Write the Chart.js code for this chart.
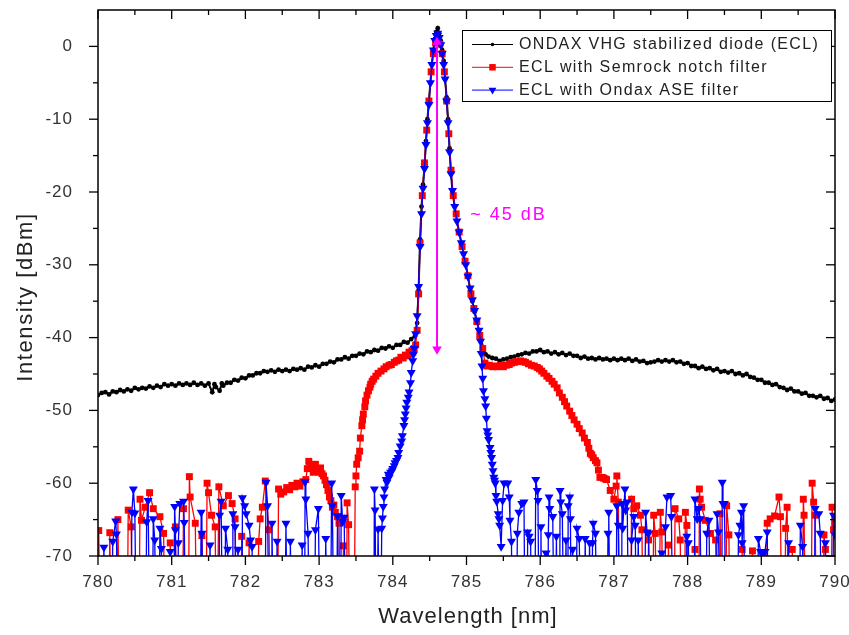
<!DOCTYPE html>
<html>
<head>
<meta charset="utf-8">
<script src="https://cdn.jsdelivr.net/npm/chart.js@4.4.1/dist/chart.umd.min.js"></script>
<style>
html,body{margin:0;padding:0;background:#fff;}
canvas{display:block;}
</style>
</head>
<body>
<canvas id="c" width="849" height="635"></canvas>
<script>
// ---------- data ----------
const xTicks = [780, 781, 782, 783, 784, 785, 786, 787, 788, 789, 790];
const yTicks = [-70, -60, -50, -40, -30, -20, -10, 0];
const xTitle = 'Wavelength [nm]';
const yTitle = 'Intensity [dBm]';
const seriesLabels = ['ONDAX VHG stabilized diode (ECL)', 'ECL with Semrock notch filter', 'ECL with Ondax ASE filter'];
// values of -90 dBm lie below the analyser floor (off the bottom of the plot)

const ecl = [
[780.00,-47.9],[780.05,-47.6],[780.10,-47.5],[780.15,-47.8],[780.20,-47.4],[780.25,-47.5],[780.30,-47.2],[780.35,-47.4],[780.40,-47.1],[780.45,-47.3],
[780.50,-46.9],[780.55,-47.1],[780.60,-46.9],[780.65,-47.0],[780.70,-46.7],[780.75,-46.9],[780.80,-46.6],[780.85,-46.8],[780.90,-46.4],[780.95,-46.6],
[781.00,-46.4],[781.05,-46.6],[781.10,-46.3],[781.15,-46.5],[781.20,-46.3],[781.25,-46.5],[781.30,-46.2],[781.35,-46.5],[781.40,-46.3],[781.45,-46.6],
[781.50,-46.3],[781.55,-47.5],[781.58,-46.4],[781.60,-46.8],[781.65,-47.3],[781.68,-46.3],[781.70,-46.6],[781.75,-46.2],[781.80,-46.2],[781.85,-45.8],
[781.90,-45.9],[781.95,-45.5],[782.00,-45.6],[782.05,-45.2],[782.10,-45.2],[782.15,-44.9],[782.20,-44.9],[782.25,-44.6],[782.30,-44.7],[782.35,-44.5],
[782.40,-44.7],[782.45,-44.4],[782.50,-44.6],[782.55,-44.4],[782.60,-44.6],[782.65,-44.3],[782.70,-44.4],[782.75,-44.2],[782.80,-44.4],[782.85,-44.0],
[782.90,-44.1],[782.95,-43.8],[783.00,-44.0],[783.05,-43.6],[783.10,-43.6],[783.15,-43.3],[783.20,-43.4],[783.25,-43.0],[783.30,-43.0],[783.35,-42.7],
[783.40,-42.9],[783.45,-42.5],[783.50,-42.5],[783.55,-42.2],[783.60,-42.3],[783.65,-41.9],[783.70,-42.0],[783.75,-41.7],[783.80,-41.8],[783.85,-41.4],
[783.90,-41.5],[783.95,-41.2],[784.00,-41.4],[784.05,-41.0],[784.10,-41.0],[784.15,-40.6],[784.20,-40.7],[784.25,-40.2],[784.30,-39.8],
[784.33,-38.0],[784.35,-33.5],[784.37,-26.5],[784.39,-22.0],[784.41,-19.0],[784.43,-16.5],[784.45,-13.0],[784.47,-10.0],[784.49,-7.5],
[784.51,-5.0],[784.53,-2.5],[784.55,-0.5],[784.57,1.0],[784.59,2.0],[784.61,2.5],[784.63,1.8],[784.65,0.8],[784.67,-0.5],[784.69,-2.0],
[784.71,-4.5],[784.73,-7.0],[784.75,-10.0],[784.77,-14.0],[784.79,-17.5],[784.81,-20.0],[784.84,-22.0],[784.87,-24.0],[784.90,-25.5],
[784.93,-27.0],[784.96,-28.5],[784.99,-30.0],[785.02,-31.5],[785.05,-33.5],[785.08,-35.0],[785.11,-36.5],[785.14,-37.8],[785.17,-39.0],
[785.20,-40.3],[785.23,-41.5],[785.26,-42.3],
[785.30,-42.6],[785.35,-42.8],[785.40,-42.9],[785.45,-43.2],[785.50,-43.0],[785.55,-42.9],[785.60,-42.7],[785.65,-42.6],[785.70,-42.4],[785.75,-42.3],
[785.80,-42.1],[785.85,-42.2],[785.90,-41.9],[785.95,-41.9],[786.00,-41.7],[786.05,-42.0],[786.10,-41.9],[786.15,-42.2],[786.20,-42.0],[786.25,-42.3],
[786.30,-42.1],[786.35,-42.4],[786.40,-42.2],[786.45,-42.5],[786.50,-42.5],[786.55,-42.8],[786.60,-42.6],[786.65,-42.9],[786.70,-42.8],[786.75,-43.0],
[786.80,-42.8],[786.85,-43.0],[786.90,-42.9],[786.95,-43.1],[787.00,-42.9],[787.05,-43.1],[787.10,-42.9],[787.15,-43.1],[787.20,-42.9],[787.25,-43.2],
[787.30,-43.0],[787.35,-43.3],[787.40,-43.2],[787.45,-43.5],[787.50,-43.4],[787.55,-43.3],[787.60,-43.1],[787.65,-43.3],[787.70,-43.1],[787.75,-43.3],
[787.80,-43.1],[787.85,-43.4],[787.90,-43.3],[787.95,-43.6],[788.00,-43.5],[788.05,-43.9],[788.10,-43.9],[788.15,-44.2],[788.20,-44.0],[788.25,-44.3],
[788.30,-44.2],[788.35,-44.5],[788.40,-44.3],[788.45,-44.7],[788.50,-44.6],[788.55,-44.8],[788.60,-44.6],[788.65,-45.0],[788.70,-44.9],[788.75,-45.2],
[788.80,-45.0],[788.85,-45.4],[788.90,-45.5],[788.95,-45.8],[789.00,-45.8],[789.05,-46.2],[789.10,-46.2],[789.15,-46.5],[789.20,-46.4],[789.25,-46.8],
[789.30,-46.9],[789.35,-47.2],[789.40,-47.0],[789.45,-47.4],[789.50,-47.4],[789.55,-47.7],[789.60,-47.6],[789.65,-48.0],[789.70,-48.0],[789.75,-48.2],
[789.80,-48.0],[789.85,-48.4],[789.90,-48.3],[789.95,-48.7],[790.00,-48.5]
];

const semrock = [
[780.00,-90],[780.01,-66.5],[780.04,-90],[780.14,-90],[780.16,-66.8],[780.19,-90],[780.25,-90],[780.27,-65.0],[780.30,-90],[780.39,-90],
[780.41,-63.7],[780.45,-66.0],[780.48,-90],[780.55,-90],[780.57,-62.2],[780.59,-65.1],[780.64,-63.3],[780.70,-61.3],[780.75,-63.5],[780.84,-64.6],
[780.89,-66.9],[780.92,-90],[780.96,-90],[780.98,-68.2],[781.01,-90],[781.03,-90],[781.05,-66.0],[781.08,-90],[781.14,-90],[781.16,-63.5],
[781.19,-90],[781.22,-90],[781.24,-59.1],[781.25,-61.9],[781.32,-65.5],[781.35,-90],[781.39,-90],[781.41,-67.2],[781.44,-90],[781.46,-90],
[781.48,-60.0],[781.50,-61.3],[781.54,-64.4],[781.59,-66.0],[781.61,-90],[781.64,-60.5],[781.70,-63.1],[781.77,-61.7],[781.82,-62.8],[781.86,-64.9],
[781.89,-90],[781.93,-90],[781.95,-67.3],[781.98,-90],[782.03,-90],[782.05,-68.2],[782.08,-90],[782.16,-90],[782.18,-68.0],[782.20,-64.9],
[782.23,-63.3],[782.27,-59.7],[782.32,-66.4],[782.35,-90],[782.43,-90],
[782.45,-60.8],[782.48,-61.5],[782.52,-61.2],[782.56,-60.6],[782.60,-60.9],[782.63,-60.3],[782.67,-60.5],[782.70,-60.0],[782.74,-60.4],[782.78,-59.8],
[782.82,-59.5],[782.84,-58.0],[782.86,-57.0],[782.88,-57.6],[782.90,-57.8],[782.92,-58.5],[782.95,-57.4],[782.97,-58.2],[783.00,-58.5],[783.02,-57.9],
[783.04,-58.7],[783.06,-59.0],[783.08,-59.6],[783.10,-60.2],[783.12,-61.0],[783.14,-61.9],[783.16,-62.4],[783.18,-63.3],[783.20,-63.0],[783.22,-64.0],
[783.25,-64.6],[783.27,-65.5],[783.30,-90],[783.32,-90],[783.33,-68.6],[783.36,-90],
[783.37,-90],[783.38,-62.7],[783.40,-65.7],[783.43,-90],[783.47,-90],
[783.49,-60.5],[783.50,-59.0],[783.51,-57.4],[783.53,-56.5],[783.55,-55.6],[783.56,-53.8],[783.58,-52.1],[783.59,-51.3],[783.60,-50.5],[783.62,-49.5],
[783.63,-48.7],[783.65,-47.9],[783.67,-47.3],[783.69,-46.8],[783.70,-46.4],[783.72,-46.0],[783.74,-45.7],[783.77,-45.3],[783.80,-44.9],[783.84,-44.6],
[783.88,-44.3],[783.91,-44.0],[783.95,-43.8],[783.98,-43.7],[784.02,-43.4],[784.05,-43.2],[784.08,-43.1],[784.11,-42.7],[784.14,-42.8],[784.17,-42.4],
[784.20,-42.5],[784.22,-42.0],[784.24,-42.3],[784.26,-41.8],[784.27,-42.0],[784.29,-41.5],
[784.31,-41.0],[784.33,-39.0],[784.35,-34.0],[784.37,-27.0],[784.40,-20.5],[784.43,-16.0],[784.46,-11.5],[784.49,-7.5],[784.52,-3.5],[784.55,-1.0],
[784.58,0.5],[784.61,1.0],[784.64,0.3],[784.67,-1.0],[784.70,-3.5],[784.73,-7.5],[784.76,-12.0],[784.79,-17.0],[784.82,-20.5],[784.86,-23.0],
[784.90,-25.5],[784.94,-27.5],[784.98,-29.5],[785.02,-31.5],[785.06,-34.0],[785.10,-36.0],[785.14,-37.8],[785.18,-39.7],[785.22,-41.5],
[785.25,-43.5],[785.28,-43.9],[785.31,-43.8],[785.35,-44.0],[785.38,-43.9],[785.42,-44.0],[785.46,-43.8],[785.50,-44.0],[785.54,-43.8],[785.58,-43.7],
[785.61,-43.5],[785.65,-43.4],[785.69,-43.3],[785.73,-43.2],[785.77,-43.3],[785.80,-43.4],[785.84,-43.6],[785.88,-43.8],[785.92,-43.9],[785.96,-44.1],
[785.99,-44.3],[786.02,-44.6],[786.05,-44.9],[786.09,-45.3],[786.12,-45.6],[786.16,-46.0],[786.19,-46.4],[786.23,-46.9],[786.26,-47.6],[786.30,-48.2],
[786.33,-48.8],[786.36,-49.4],[786.40,-50.1],[786.43,-50.7],[786.46,-51.3],[786.50,-51.9],[786.53,-52.5],[786.57,-53.1],[786.60,-53.8],[786.64,-54.4],
[786.66,-55.2],[786.68,-55.9],[786.70,-56.1],[786.72,-56.5],[786.75,-56.9],[786.77,-57.2],[786.79,-58.2],[786.81,-59.2],[786.84,-59.2],[786.86,-59.3],
[786.88,-59.4],[786.90,-59.5],[786.95,-61.0],[787.00,-62.2],[787.03,-60.4],[787.04,-59.0],
[787.06,-62.6],[787.09,-90],[787.22,-90],[787.24,-62.2],[787.27,-63.5],[787.31,-63.1],[787.36,-64.4],[787.38,-66.4],[787.41,-90],[787.45,-90],
[787.47,-67.8],[787.50,-90],[787.52,-90],[787.54,-64.4],[787.56,-66.9],[787.60,-90],[787.63,-64.0],[787.65,-66.7],[787.68,-90],[787.72,-90],
[787.74,-68.5],[787.77,-90],[787.81,-90],[787.83,-63.5],[787.88,-64.9],[787.90,-67.8],[787.93,-90],[787.95,-90],[787.97,-64.0],[787.99,-65.8],
[788.02,-90],[788.08,-90],[788.10,-69.1],[788.13,-90],[788.15,-90],[788.16,-60.8],[788.17,-62.2],[788.19,-63.3],[788.24,-65.1],[788.31,-66.9],
[788.38,-67.8],[788.41,-90],[788.43,-90],[788.44,-64.2],[788.47,-90],[788.51,-90],[788.53,-63.1],[788.56,-67.1],[788.59,-90],[788.72,-90],
[788.74,-69.1],[788.77,-90],[788.86,-90],[788.88,-69.3],[788.91,-90],[789.06,-90],[789.08,-65.5],[789.12,-64.9],[789.18,-64.5],[789.24,-61.9],
[789.26,-64.6],[789.29,-90],[789.31,-90],[789.33,-66.2],[789.35,-63.3],[789.38,-90],[789.40,-90],[789.42,-69.1],[789.45,-90],[789.55,-90],
[789.57,-62.2],[789.58,-64.4],[789.61,-90],[789.67,-90],[789.69,-60.0],[789.71,-62.6],[789.73,-64.4],[789.76,-90],[789.83,-90],[789.85,-67.1],
[789.87,-69.1],[789.90,-90],[789.94,-90],[789.96,-63.3],[789.98,-66.4],[790.00,-65.5]
];

const ondaxAse = [
[780.00,-90],[780.06,-90],[780.08,-68.8],[780.11,-90],[780.18,-90],[780.20,-68.0],[780.24,-65.2],[780.25,-67.0],[780.28,-90],[780.44,-90],
[780.46,-64.0],[780.48,-60.8],[780.50,-64.1],[780.53,-90],[780.64,-90],[780.66,-65.3],[780.68,-62.4],[780.71,-90],[780.73,-90],[780.75,-64.9],
[780.77,-67.8],[780.80,-90],[780.82,-90],[780.84,-66.2],[780.86,-69.0],[780.90,-90],[780.96,-90],[780.98,-69.4],[781.00,-90],[781.02,-90],
[781.04,-63.2],[781.05,-66.4],[781.07,-90],[781.09,-68.2],[781.11,-62.8],[781.16,-62.5],[781.17,-65.4],[781.20,-90],[781.38,-90],[781.40,-64.0],
[781.41,-66.9],[781.44,-90],[781.50,-90],[781.52,-68.5],[781.55,-90],[781.63,-90],[781.65,-64.4],[781.67,-62.5],[781.70,-90],[781.72,-90],
[781.73,-66.2],[781.76,-69.1],[781.80,-90],[781.82,-90],[781.83,-64.2],[781.86,-66.0],[781.88,-90],[781.90,-69.1],[781.93,-90],[781.95,-90],
[781.96,-62.0],[781.99,-63.1],[782.01,-64.2],[782.05,-65.8],[782.07,-67.8],[782.09,-68.7],[782.12,-90],[782.26,-90],[782.28,-59.9],[782.30,-63.1],
[782.33,-90],[782.35,-90],[782.36,-65.5],[782.39,-90],[782.41,-90],[782.43,-68.0],[782.46,-90],[782.53,-90],[782.55,-65.5],[782.58,-90],
[782.60,-90],[782.61,-68.0],[782.64,-90],[782.75,-90],[782.77,-68.5],[782.79,-90],[782.80,-90],[782.81,-59.8],[782.82,-62.2],[782.85,-66.9],
[782.88,-90],[782.93,-90],[782.95,-66.4],[782.99,-63.5],[783.02,-90],[783.07,-90],[783.09,-67.6],[783.12,-90],[783.15,-90],[783.17,-60.0],
[783.18,-63.1],[783.21,-90],[783.23,-90],[783.25,-64.5],[783.28,-90],[783.29,-90],[783.30,-61.7],[783.32,-65.3],[783.34,-64.7],[783.37,-90],
[783.74,-90],[783.75,-60.8],[783.76,-63.7],[783.78,-90],[783.80,-66.3],[783.83,-90],
[783.85,-66.2],[783.86,-64.8],[783.87,-63.2],[783.88,-61.9],[783.89,-60.8],[783.91,-59.5],[783.92,-59.9],[783.94,-58.8],[783.95,-59.2],[783.97,-58.5],
[783.99,-58.3],[784.00,-58.0],[784.02,-57.6],[784.03,-57.2],[784.05,-56.9],[784.07,-56.5],[784.08,-55.8],[784.10,-54.9],[784.12,-54.2],[784.13,-53.5],
[784.15,-52.1],[784.16,-51.3],[784.17,-50.5],[784.18,-49.7],[784.19,-48.9],[784.21,-48.2],[784.22,-47.5],[784.24,-46.2],[784.25,-44.8],[784.27,-43.2],
[784.28,-42.3],[784.29,-41.5],[784.31,-39.5],
[784.33,-37.0],[784.35,-33.0],[784.37,-27.5],[784.39,-23.0],[784.41,-19.5],[784.43,-16.8],[784.45,-13.5],[784.47,-10.5],[784.49,-8.0],[784.51,-5.0],
[784.53,-2.5],[784.55,-0.5],[784.57,0.8],[784.59,1.5],[784.61,1.8],[784.63,1.2],[784.65,0.2],[784.67,-1.0],[784.69,-2.5],[784.71,-4.5],
[784.73,-7.5],[784.75,-10.5],[784.77,-14.5],[784.79,-17.5],[784.81,-19.8],[784.84,-22.0],[784.87,-24.0],[784.90,-25.5],[784.93,-27.0],[784.96,-28.5],
[784.99,-30.0],[785.02,-31.6],[785.05,-33.2],[785.08,-34.8],[785.11,-36.3],[785.14,-37.6],[785.17,-39.0],[785.19,-40.5],[785.20,-42.2],[785.21,-43.9],
[785.22,-45.6],[785.23,-47.3],[785.25,-48.4],[785.26,-49.4],[785.27,-51.1],[785.28,-52.8],[785.29,-53.4],[785.30,-54.0],[785.32,-55.1],[785.33,-55.8],
[785.34,-56.5],[785.35,-57.4],[785.36,-58.3],[785.37,-59.2],[785.38,-59.6],[785.39,-60.0],[785.40,-61.7],[785.41,-62.5],[785.43,-64.2],[785.44,-64.9],
[785.45,-65.8],[785.47,-68.7],[785.49,-62.4],[785.51,-60.0],[785.56,-60.0],[785.58,-61.9],[785.59,-65.1],[785.61,-68.0],[785.63,-90],[785.67,-90],
[785.69,-66.9],[785.71,-64.0],[785.75,-62.8],[785.78,-62.6],[785.80,-90],[785.82,-90],[785.83,-66.7],[785.85,-67.3],[785.87,-68.0],[785.89,-90],
[785.92,-90],[785.94,-59.5],[785.96,-61.0],[785.97,-62.4],[785.99,-90],[786.00,-90],[786.01,-66.0],[786.03,-90],[786.07,-90],[786.08,-69.6],
[786.10,-90],[786.11,-67.1],[786.12,-61.9],[786.13,-63.5],[786.17,-64.6],[786.20,-90],[786.22,-67.3],[786.24,-90],[786.26,-90],[786.27,-61.0],
[786.28,-62.6],[786.30,-64.2],[786.33,-90],[786.35,-67.8],[786.37,-90],[786.38,-63.1],[786.40,-61.9],[786.41,-64.9],[786.43,-90],[786.44,-69.1],
[786.47,-90],[786.50,-66.2],[786.53,-67.6],[786.56,-90],[786.60,-90],[786.61,-67.6],[786.64,-90],[786.67,-68.2],[786.69,-90],[786.71,-68.2],
[786.72,-65.5],[786.75,-66.9],[786.78,-90],[786.90,-90],[786.92,-66.9],[786.93,-64.0],[786.96,-90],[787.02,-90],[787.04,-63.1],[787.06,-65.8],
[787.08,-90],[787.10,-90],[787.11,-62.8],[787.12,-66.2],[787.15,-60.8],[787.16,-63.7],[787.18,-62.6],[787.21,-90],[787.23,-90],[787.24,-67.8],
[787.27,-64.6],[787.29,-65.8],[787.31,-90],[787.33,-67.8],[787.36,-90],[787.41,-90],[787.43,-64.0],[787.45,-66.7],[787.47,-66.9],[787.50,-90],
[787.63,-90],[787.65,-69.6],[787.68,-90],[787.70,-66.0],[787.72,-61.9],[787.77,-61.7],[787.78,-64.6],[787.81,-90],[787.97,-90],[787.99,-67.3],
[788.01,-68.2],[788.04,-90],[788.08,-90],[788.10,-62.2],[788.13,-64.9],[788.15,-63.5],[788.17,-64.9],[788.20,-90],[788.24,-90],[788.26,-66.9],
[788.29,-65.1],[788.32,-90],[788.38,-90],[788.40,-64.2],[788.42,-66.7],[788.45,-90],[788.46,-90],[788.47,-59.9],[788.48,-62.8],[788.50,-62.8],
[788.53,-90],[788.67,-90],[788.69,-67.1],[788.71,-65.8],[788.73,-64.0],[788.74,-68.2],[788.76,-63.1],[788.79,-90],[788.94,-90],[788.96,-67.6],
[788.99,-69.4],[789.02,-69.5],[789.05,-69.4],[789.08,-66.7],[789.11,-90],[789.35,-90],[789.37,-68.2],[789.40,-90],[789.51,-90],[789.53,-65.8],
[789.56,-68.7],[789.59,-90],[789.71,-90],[789.73,-63.5],[789.78,-64.2],[789.80,-66.9],[789.83,-90],[789.85,-90],[789.87,-68.2],[789.90,-90],
[789.96,-90],[789.98,-64.4],[790.00,-67.1]
];

// the ~45 dB suppression arrow and its label
const arrowEnds = [[784.60, 0.6], [784.60, -41.6]];
const arrowLabel = '~ 45 dB';
const arrowLabelAt = [785.05, -23.2];

// ---------- chart ----------
const FONT = "'Liberation Sans', Arial, sans-serif";
Chart.defaults.font.family = FONT;

const toXY = arr => arr.map(p => ({x: p[0], y: p[1]}));

function seg(ctx, x1, y1, x2, y2) { ctx.beginPath(); ctx.moveTo(x1, y1); ctx.lineTo(x2, y2); ctx.stroke(); }
function noPad(s) { s.paddingTop = 0; s.paddingBottom = 0; s.paddingLeft = 0; s.paddingRight = 0; }

const decor = {
  id: 'decor',
  beforeDraw(chart) { chart.ctx.letterSpacing = '1px'; },
  afterDraw(chart) {
    const ctx = chart.ctx, a = chart.chartArea, xs = chart.scales.x, ys = chart.scales.y;
    ctx.save();
    ctx.letterSpacing = '0px';
    // frame
    ctx.strokeStyle = '#000';
    ctx.lineWidth = 1.5;
    ctx.strokeRect(a.left, a.top, a.right - a.left, a.bottom - a.top);
    ctx.lineWidth = 1.3;
    xTicks.forEach((v, i) => {
      const p = xs.getPixelForValue(v);
      seg(ctx, p, a.bottom, p, a.bottom + 9);
      seg(ctx, p, a.top, p, a.top + 9);
      if (i < xTicks.length - 1) {
        const m = xs.getPixelForValue((v + xTicks[i + 1]) / 2);
        seg(ctx, m, a.bottom, m, a.bottom + 5);
        seg(ctx, m, a.top, m, a.top + 5);
      }
    });
    yTicks.forEach((v, i) => {
      const p = ys.getPixelForValue(v);
      seg(ctx, a.left - 9, p, a.left, p);
      seg(ctx, a.right, p, a.right - 9, p);
      if (i < yTicks.length - 1) {
        const m = ys.getPixelForValue((v + yTicks[i + 1]) / 2);
        seg(ctx, a.left - 5, m, a.left, m);
        seg(ctx, a.right, m, a.right - 5, m);
      }
    });

    // annotation label
    ctx.fillStyle = '#ff00ff';
    ctx.font = '18px ' + FONT;
    ctx.letterSpacing = '2px';
    ctx.textAlign = 'left';
    ctx.textBaseline = 'middle';
    ctx.fillText(arrowLabel, xs.getPixelForValue(arrowLabelAt[0]), ys.getPixelForValue(arrowLabelAt[1]));

    // axis titles
    ctx.fillStyle = '#222';
    ctx.font = '22px ' + FONT;
    ctx.textAlign = 'center';
    ctx.letterSpacing = '1px';
    ctx.fillText(xTitle, 468, 617);
    ctx.save();
    ctx.translate(26, 297);
    ctx.rotate(-Math.PI / 2);
    ctx.letterSpacing = '1.6px';
    ctx.fillText(yTitle, 0, 0);
    ctx.restore();

    // legend box inside plot
    const bw = 369, bh = 71;
    const bx = a.right - 4 - bw, by = a.top + 20;
    ctx.fillStyle = '#fff';
    ctx.fillRect(bx, by, bw, bh);
    ctx.strokeStyle = '#000';
    ctx.lineWidth = 1;
    ctx.strokeRect(bx + 0.5, by + 0.5, bw, bh);
    ctx.font = '16px ' + FONT;
    ctx.letterSpacing = '1.35px';
    ctx.textAlign = 'left';
    ctx.textBaseline = 'middle';
    chart.data.datasets.forEach((ds, i) => {
      if (!ds.label) return;
      const y = by + 14.5 + i * 22.8;
      ctx.strokeStyle = ds.borderColor;
      ctx.lineWidth = 1;
      seg(ctx, bx + 10, y, bx + 51, y);
      ctx.fillStyle = ds.backgroundColor;
      Chart.helpers.drawPoint(ctx, {pointStyle: ds.pointStyle, radius: ds.legendRadius, rotation: ds.pointRotation || 0, borderWidth: 0}, bx + 30.5, y);
      ctx.fillStyle = '#222';
      ctx.fillText(ds.label, bx + 57, y + 0.5);
    });
    ctx.restore();
  }
};

new Chart(document.getElementById('c'), {
  type: 'scatter',
  data: {
    datasets: [
      {label: seriesLabels[0], data: toXY(ecl), showLine: true, borderColor: '#000000', backgroundColor: '#000000',
       borderWidth: 2, pointStyle: 'circle', pointRadius: 2.4, pointBorderWidth: 0, legendRadius: 1.8, order: 3, clip: 0},
      {label: seriesLabels[1], data: toXY(semrock), showLine: true, borderColor: '#ff0000', backgroundColor: '#ff0000',
       borderWidth: 1.3, pointStyle: 'rect', pointRadius: 4.9, pointBorderWidth: 0, legendRadius: 4.6, order: 2, clip: 0},
      {label: seriesLabels[2], data: toXY(ondaxAse), showLine: true, borderColor: '#0000ff', backgroundColor: '#0000ff',
       borderWidth: 1.3, pointStyle: 'triangle', pointRotation: 180, pointRadius: 5.2, pointBorderWidth: 0, legendRadius: 4.5, order: 1, clip: 0},
      {label: '', data: toXY(arrowEnds), showLine: true, borderColor: '#ff00ff', backgroundColor: '#ff00ff',
       borderWidth: 2, pointStyle: 'triangle', pointRotation: [0, 180], pointRadius: 5.5, pointBorderWidth: 0, order: 0, clip: 0}
    ]
  },
  options: {
    responsive: false,
    devicePixelRatio: 1,
    animation: false,
    layout: {autoPadding: false, padding: {left: 0, right: 14, top: 10, bottom: 0}},
    plugins: {legend: {display: false}, tooltip: {enabled: false}, title: {display: false}},
    scales: {
      x: {
        type: 'linear', min: 780, max: 790,
        afterBuildTicks: s => { s.ticks = xTicks.map(v => ({value: v})); },
        afterFit: s => { s.height = 79; noPad(s); },
        grid: {display: false},
        border: {display: false},
        ticks: {color: '#333', font: {size: 17}, padding: 8, maxRotation: 0}
      },
      y: {
        type: 'linear', min: -70, max: 5,
        afterBuildTicks: s => { s.ticks = yTicks.map(v => ({value: v})); },
        afterFit: s => { s.width = 98; noPad(s); },
        grid: {display: false},
        border: {display: false},
        ticks: {color: '#333', font: {size: 17}, padding: 17}
      }
    }
  },
  plugins: [decor]
});
</script>
</body>
</html>
